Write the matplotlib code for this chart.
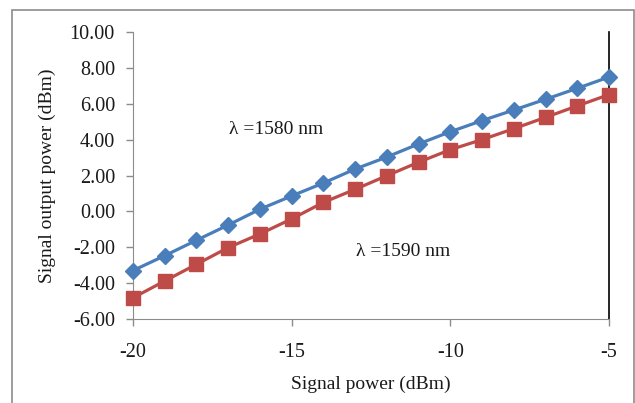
import matplotlib
matplotlib.use("Agg")
import matplotlib.pyplot as plt
from matplotlib.patches import Rectangle

signal_power = [-20, -19, -18, -17, -16, -15, -14, -13, -12, -11, -10, -9, -8, -7, -6, -5]
out_1580 = [-3.3, -2.47, -1.61, -0.76, 0.12, 0.86, 1.58, 2.36, 3.03, 3.76, 4.44, 5.06, 5.65, 6.25, 6.86, 7.49]
out_1590 = [-4.82, -3.88, -2.95, -2.02, -1.26, -0.42, 0.5, 1.23, 1.99, 2.74, 3.44, 4.0, 4.61, 5.24, 5.88, 6.51]
y_ticks = [-6, -4, -2, 0, 2, 4, 6, 8, 10]
x_ticks = [-20, -15, -10, -5]

plt.rcParams['font.family'] = ['Liberation Serif', 'DejaVu Serif']
plt.rcParams['axes.unicode_minus'] = False

fig = plt.figure(figsize=(6.35, 4.03), dpi=100)
fig.patches.append(Rectangle((12/635, -0.01), (634-12)/635, 1 - 10/403 + 0.01,
                             transform=fig.transFigure, fill=False,
                             edgecolor='#8c8c8c', linewidth=1.2))
ax = fig.add_axes([133/635, 1-319/403, (609-133)/635, (319-32)/403])

blue = '#4A7EBB'
red = '#BE4B48'
ax.plot(signal_power, out_1580, color=blue, lw=2.3, marker='D', ms=8, mfc=blue, mec=blue,
        clip_on=False, zorder=3)
ax.plot(signal_power, out_1590, color=red, lw=2.3, marker='s', ms=10, mfc=red, mec=red,
        clip_on=False, zorder=3)

ax.set_xlim(-20, -5)
ax.set_ylim(-6, 10)
ax.set_xticks(x_ticks)
ax.set_yticks(y_ticks)
ax.set_yticklabels([f"{v:.2f}" for v in y_ticks])
ax.tick_params(axis='both', direction='out', length=5, width=1, color='#8c8c8c',
               labelsize=14.5, labelcolor='#1a1a1a')
ax.tick_params(axis='x', pad=12)
ax.tick_params(axis='y', pad=8)
ax.spines['top'].set_visible(False)
ax.spines['left'].set_color('#8c8c8c')
ax.spines['bottom'].set_color('#8c8c8c')
ax.spines['right'].set_color('black')
ax.spines['right'].set_linewidth(1.2)
ax.spines['right'].set_zorder(2)

ax.set_xlabel('Signal power (dBm)', fontsize=14, color='#1a1a1a', labelpad=10)
ax.set_ylabel('Signal output power (dBm)', fontsize=14, color='#1a1a1a', labelpad=10)

ax.text(-15.49, 4.54, 'λ =1580 nm', fontsize=14, ha='center', va='center', color='#1a1a1a')
ax.text(-11.49, -2.25, 'λ =1590 nm', fontsize=14, ha='center', va='center', color='#1a1a1a')

fig.savefig('out.png', dpi=100)
